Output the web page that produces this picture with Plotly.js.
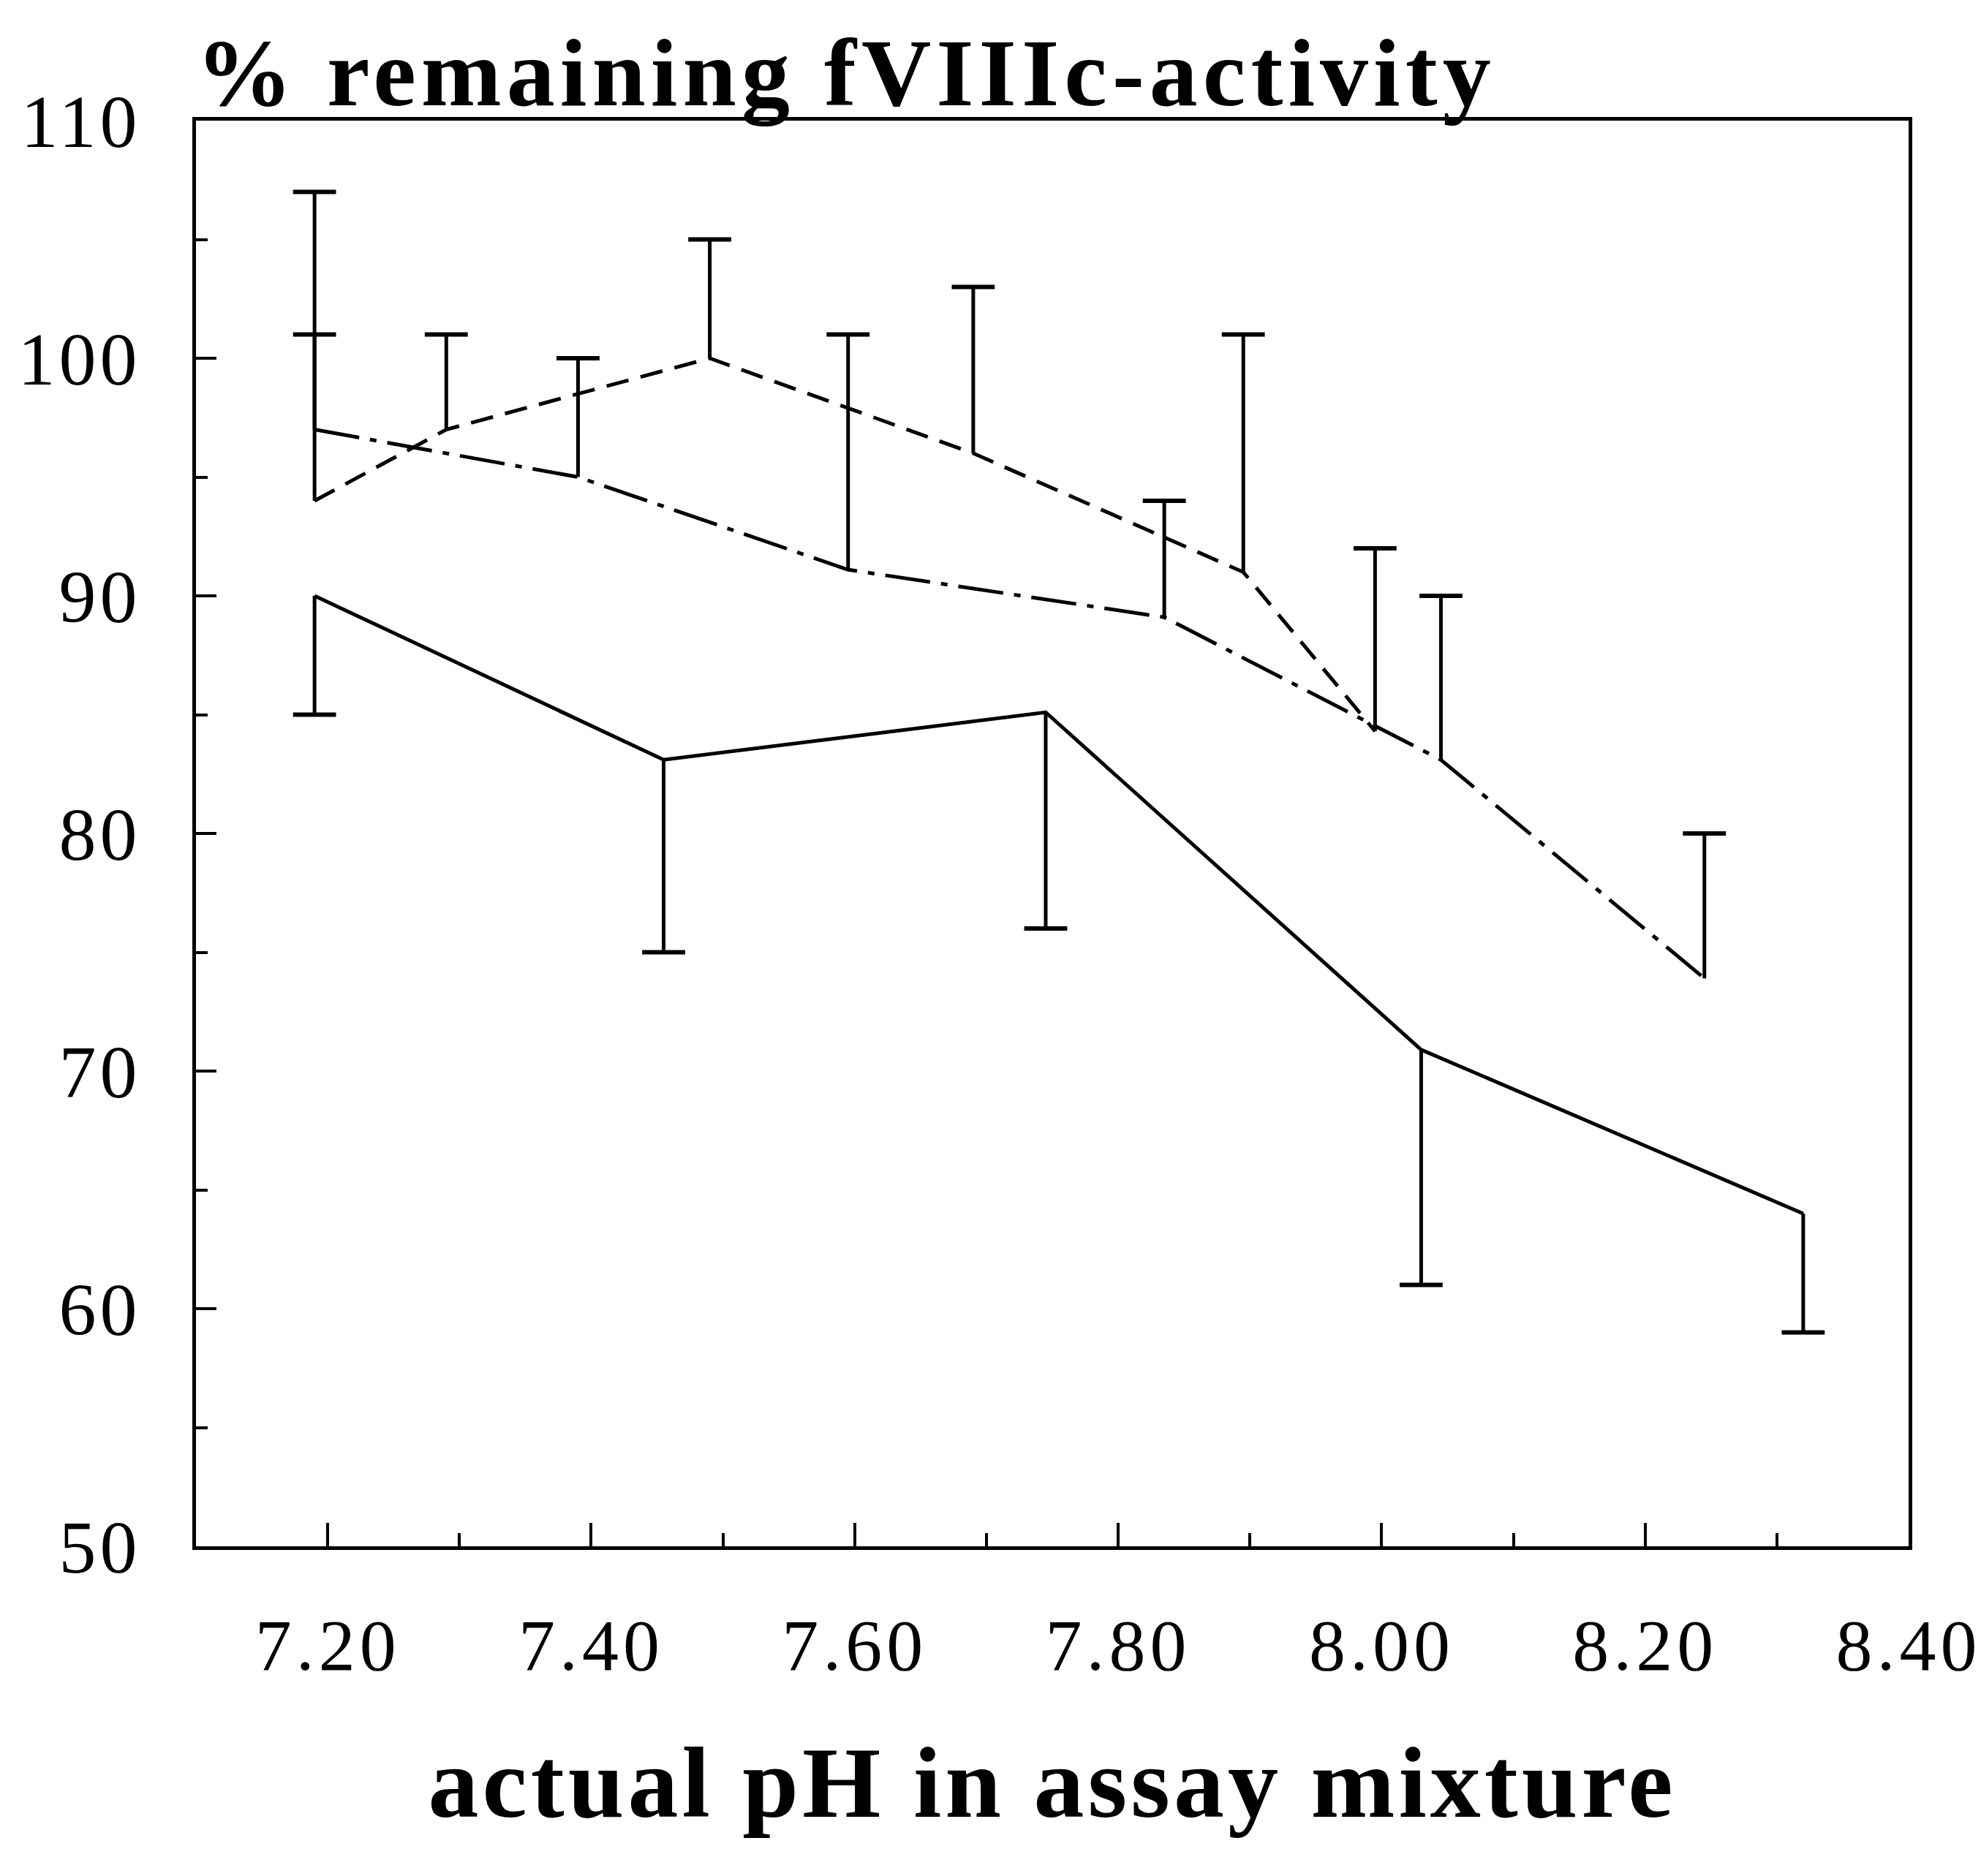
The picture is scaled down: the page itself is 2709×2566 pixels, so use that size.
<!DOCTYPE html>
<html><head><meta charset="utf-8">
<script src="https://cdn.plot.ly/plotly-3.0.1.min.js"></script>
<style>
html,body{margin:0;padding:0;background:#fff;}
#chart .gtitle{letter-spacing:7px;}
#chart .xtitle{letter-spacing:5px;}
#chart .xtick text{letter-spacing:6px;}
#chart .ytick text{letter-spacing:5px;}
</style></head><body>
<div id="chart" style="width:2709px;height:2566px;"></div>
<script>
// Series 1 (solid line) – error bars downward
const phSolid   = [7.19, 7.455, 7.745, 8.03, 8.32];
const actSolid  = [90, 83.1, 85.1, 70.9, 64.0];
const lowSolid  = [85, 75, 76, 61, 59];

// Series 2 (dashed line) – error bars upward
const phDash    = [7.19, 7.29, 7.49, 7.69, 7.895, 7.995];
const actDash   = [94, 97, 100, 96, 91, 84.3];
const highDash  = [101, 101, 105, 103, 101, 92];

// Series 3 (dash-dot line) – error bars upward
const phDashDot   = [7.19, 7.39, 7.595, 7.835, 8.045, 8.245];
const actDashDot  = [97, 95, 91.1, 89.1, 83.1, 73.9];
const highDashDot = [107, 100, 101, 94, 90, 80];

const xTickVals = [7.2, 7.4, 7.6, 7.8, 8.0, 8.2, 8.4];
const xTickText = ['7.20', '7.40', '7.60', '7.80', '8.00', '8.20', '8.40'];
const yTickVals = [50, 60, 70, 80, 90, 100, 110];
const yTickText = ['50', '60', '70', '80', '90', '100', '110'];

const SERIF = '"Liberation Serif", "Times New Roman", serif';
const LW = 5;

function lineTrace(x, y, dash, up, down) {
  return {
    type: 'scatter', mode: 'lines', x: x, y: y,
    line: {color: '#000', width: LW, dash: dash},
    error_y: {type: 'data', symmetric: false, array: up, arrayminus: down,
              width: 0, thickness: 5, color: '#000'},
    hoverinfo: 'skip'
  };
}
function capTrace(x, ends) {
  return {
    type: 'scatter', mode: 'markers', x: x, y: ends,
    marker: {symbol: 'line-ew', size: 42, line: {color: '#000', width: 6}},
    hoverinfo: 'skip'
  };
}

const traces = [
  lineTrace(phSolid, actSolid, 'solid',
            actSolid.map(() => 0), actSolid.map((v, i) => v - lowSolid[i])),
  capTrace(phSolid, lowSolid),
  lineTrace(phDash, actDash, '31px,17px',
            actDash.map((v, i) => highDash[i] - v), actDash.map(() => 0)),
  capTrace(phDash, highDash),
  lineTrace(phDashDot, actDashDot, '62px,15px,9px,15px',
            actDashDot.map((v, i) => highDashDot[i] - v), actDashDot.map(() => 0)),
  capTrace(phDashDot, highDashDot)
];

const layout = {
  width: 2709, height: 2566,
  margin: {l: 268, r: 99, t: 165, b: 451},
  paper_bgcolor: '#fff', plot_bgcolor: '#fff',
  showlegend: false,
  font: {family: SERIF, color: '#000'},
  title: {
    text: '% remaining fVIIIc-activity',
    font: {family: SERIF, size: 132, weight: 'bold', color: '#000'},
    xref: 'paper', x: 0, xanchor: 'left',
    yref: 'container', y: 0.98, yanchor: 'top'
  },
  xaxis: {
    range: [7.1, 8.4], tickmode: 'array', tickvals: xTickVals, ticktext: xTickText,
    ticks: 'inside', ticklen: 32, tickwidth: 4, tickcolor: '#000',
    showline: true, linewidth: 5, linecolor: '#000', mirror: true,
    showgrid: false, zeroline: false,
    tickfont: {family: SERIF, size: 100, color: '#000'},
    ticklabelstandoff: 44,
    minor: {dtick: 0.1, tick0: 7.1, ticks: 'inside', ticklen: 18, tickwidth: 4, tickcolor: '#000', showgrid: false},
    title: {text: 'actual pH in assay mixture',
            font: {family: SERIF, size: 138, weight: 'bold', color: '#000'}, standoff: 85}
  },
  yaxis: {
    range: [50, 110], tickmode: 'array', tickvals: yTickVals, ticktext: yTickText,
    ticks: 'inside', ticklen: 28, tickwidth: 4, tickcolor: '#000',
    showline: true, linewidth: 5, linecolor: '#000', mirror: true,
    showgrid: false, zeroline: false,
    tickfont: {family: SERIF, size: 102, color: '#000'},
    ticklabelstandoff: 50,
    minor: {dtick: 5, tick0: 50, ticks: 'inside', ticklen: 16, tickwidth: 4, tickcolor: '#000', showgrid: false}
  }
};

Plotly.newPlot('chart', traces, layout, {displayModeBar: false, staticPlot: true});
</script>
</body></html>
